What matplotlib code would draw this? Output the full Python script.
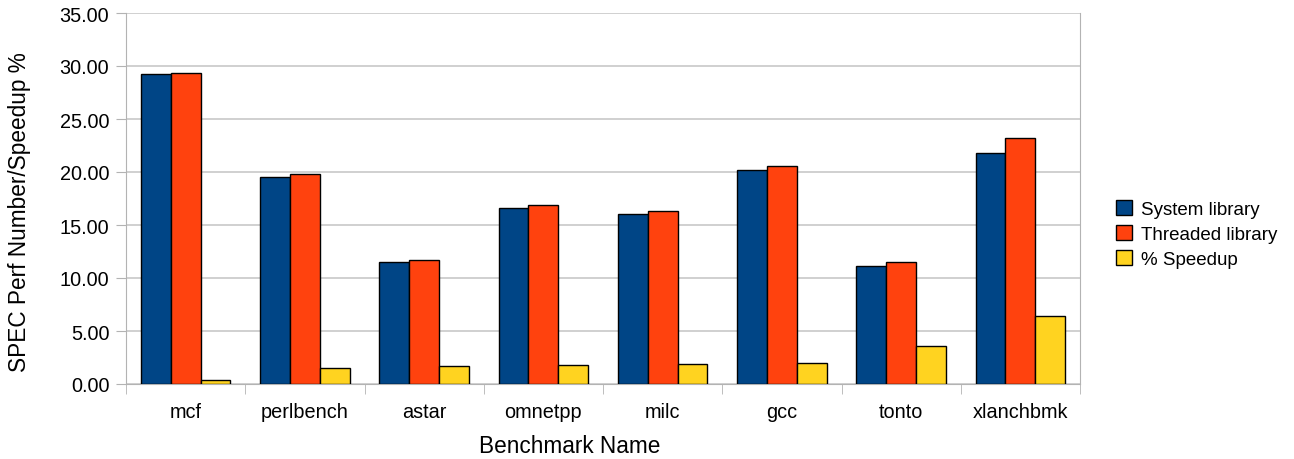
import matplotlib
matplotlib.use("Agg")
import matplotlib.pyplot as plt
import numpy as np

plt.rcParams['font.family'] = ['Liberation Sans', 'DejaVu Sans']

benchmarks = ["mcf", "perlbench", "astar", "omnetpp", "milc", "gcc", "tonto", "xlanchbmk"]
system_lib = [29.25, 19.5, 11.48, 16.57, 16.0, 20.19, 11.1, 21.8]
threaded_lib = [29.3, 19.8, 11.67, 16.89, 16.3, 20.6, 11.48, 23.2]
speedup = [0.35, 1.5, 1.73, 1.79, 1.86, 1.95, 3.58, 6.39]
series_names = ["System library", "Threaded library", "% Speedup"]
colors = ["#004586", "#ff420e", "#ffd320"]
y_ticks = [0, 5, 10, 15, 20, 25, 30, 35]

fig = plt.figure(figsize=(12.94, 4.6), dpi=100)
ax = fig.add_axes([126 / 1294, 75 / 460, 954 / 1294, 371 / 460])

x = np.arange(len(benchmarks))
w = 0.25
for i, (vals, name, c) in enumerate(zip([system_lib, threaded_lib, speedup], series_names, colors)):
    ax.bar(x + (i - 1) * w, vals, w, color=c, edgecolor="black", linewidth=1.0,
           label=name, zorder=3)

ax.set_xlim(-0.5, len(benchmarks) - 0.5)
ax.set_ylim(0, 35)
ax.set_yticks(y_ticks)
ax.set_yticklabels([f"{v:.2f}" for v in y_ticks], fontsize=14.3)
ax.set_xticks(x)
ax.set_xticklabels(benchmarks, fontsize=14.3)
ax.tick_params(axis="x", length=0, pad=13)
ax.set_xticks(np.arange(-0.5, len(benchmarks)), minor=True)
ax.tick_params(axis="x", which="minor", length=7, color="#b3b3b3", direction="out")
ax.tick_params(axis="y", length=7, color="#b3b3b3", direction="out", pad=5)
ax.yaxis.grid(True, color="#c8c8c8", linewidth=1.2, zorder=0)
ax.set_axisbelow(True)
for s in ax.spines.values():
    s.set_color("#b3b3b3")
ax.spines["top"].set_visible(False)

ax.set_xlabel("Benchmark Name", fontsize=16.3)
ax.set_ylabel("SPEC Perf Number/Speedup %", fontsize=16.3)
ax.xaxis.label.set_va("center")
ax.yaxis.label.set_va("center")
ax.xaxis.set_label_coords((570 - 126) / 954, (385 - 447) / 371)
ax.yaxis.set_label_coords((20 - 126) / 954, (385 - 212) / 371)

handles, labels = ax.get_legend_handles_labels()
fig.legend(handles, labels, loc="center left", bbox_to_anchor=(1107 / 1294, (460 - 235) / 460),
           frameon=False, fontsize=13.5, handlelength=0.85, handleheight=0.85,
           handletextpad=0.45, labelspacing=0.4, borderpad=0)

fig.savefig("out.png", dpi=100)
